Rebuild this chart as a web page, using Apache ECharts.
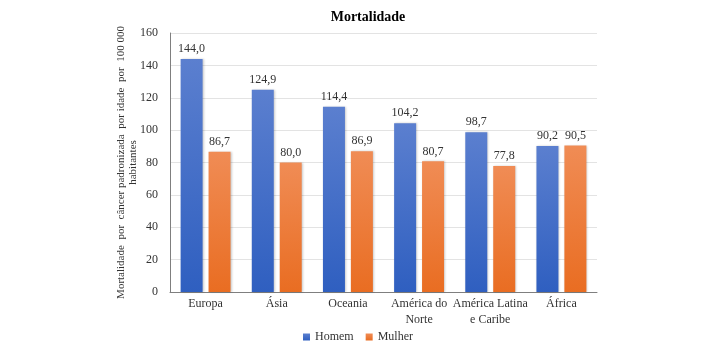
<!DOCTYPE html>
<html><head><meta charset="utf-8">
<script src="https://cdn.jsdelivr.net/npm/echarts@6/dist/echarts.min.js"></script>
<style>html,body{margin:0;padding:0;background:#fff}#c{width:716px;height:343px}</style>
</head><body><div id="c"></div>
<script>
const categories = ['Europa', 'Ásia', 'Oceania', 'América do\nNorte', 'América Latina\ne Caribe', 'África'];
const homem = [144.0, 124.9, 114.4, 104.2, 98.7, 90.2];
const mulher = [86.7, 80.0, 86.9, 80.7, 77.8, 90.5];
const yTicks = {min: 0, max: 160, interval: 20};

const font = '"Liberation Serif", "DejaVu Serif", serif';
const chart = echarts.init(document.getElementById('c'));
const fmt = p => p.value.toFixed(1).replace('.', ',');
function grad(top, bottom){
  return new echarts.graphic.LinearGradient(0,0,0,1,[{offset:0,color:top},{offset:1,color:bottom}]);
}
chart.setOption({
  animation: false,
  textStyle: {fontFamily: font},
  title: {text: 'Mortalidade', left: 363, textAlign: 'center', top: 5,
    textStyle: {fontFamily: font, fontSize: 14, fontWeight: 'bold', color: '#000'}},
  legend: {top: 326, left: 'center', itemWidth: 7, itemHeight: 7, itemGap: 12, icon: 'rect',
    textStyle: {fontFamily: font, fontSize: 12, color: '#333'}},
  grid: {left: 170, right: 119, top: 33, bottom: 51},
  xAxis: {type: 'category', data: categories,
    axisLine: {lineStyle: {color: '#7f7f7f'}}, axisTick: {show: false},
    axisLabel: {fontFamily: font, fontSize: 12, color: '#333', lineHeight: 16, margin: 4, interval: 0}},
  yAxis: {type: 'value', min: yTicks.min, max: yTicks.max, interval: yTicks.interval,
    name: 'Mortalidade  por  câncer padronizada  por idade  por  100 000\nhabitantes',
    nameLocation: 'middle', nameGap: 31, nameRotate: 90, nameMoveOverlap: false,
    nameTextStyle: {fontFamily: font, fontSize: 11, color: '#333', lineHeight: 12, align: 'center'},
    axisLine: {show: true, lineStyle: {color: '#7f7f7f'}}, axisTick: {show: false},
    splitLine: {lineStyle: {color: '#e3e3e3'}},
    axisLabel: {fontFamily: font, fontSize: 12, color: '#333', margin: 12}},
  series: [
    {name: 'Homem', type: 'bar', data: homem, barWidth: 22, barGap: '27%',
      itemStyle: {color: grad('#5b7fcf', '#2f5fc0'), shadowColor: 'rgba(0,0,0,0.2)', shadowBlur: 2, shadowOffsetX: 1},
      label: {show: true, position: 'top', formatter: fmt, fontFamily: font, fontSize: 12, color: '#333', distance: 4}},
    {name: 'Mulher', type: 'bar', data: mulher, barWidth: 22,
      itemStyle: {color: grad('#f08c55', '#e96d22'), shadowColor: 'rgba(0,0,0,0.2)', shadowBlur: 2, shadowOffsetX: 1},
      label: {show: true, position: 'top', formatter: fmt, fontFamily: font, fontSize: 12, color: '#333', distance: 4}}
  ]
});
</script></body></html>
